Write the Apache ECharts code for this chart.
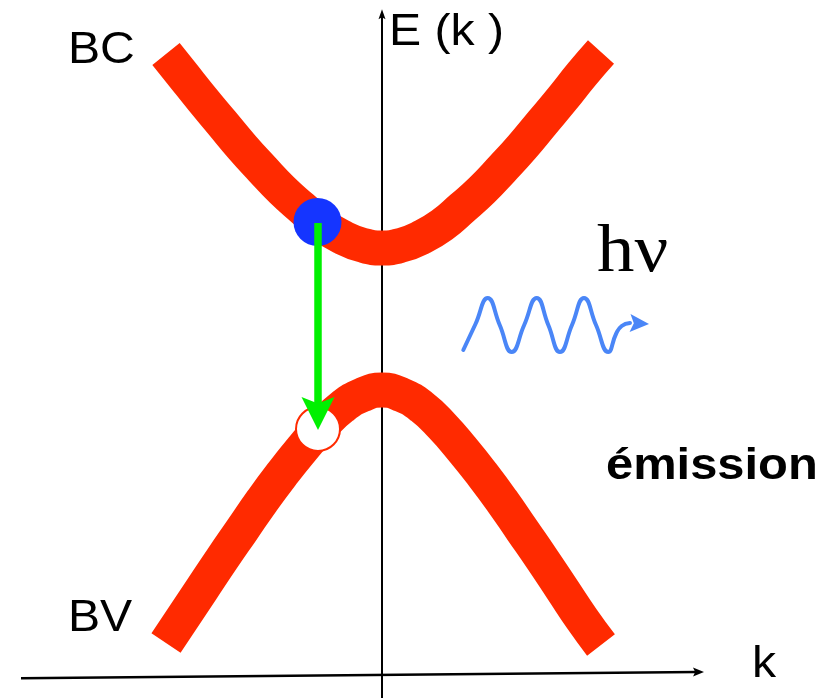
<!DOCTYPE html>
<html><head><meta charset="utf-8">
<script src="https://cdn.jsdelivr.net/npm/echarts@6/dist/echarts.min.js"></script>
<style>html,body{margin:0;padding:0;background:#fff}#c{width:830px;height:698px}</style>
</head><body><div id="c"></div>
<script>
// ---- data (k, E in arbitrary units) ----
// conduction band (BC) centre line
const bcK = [-2.16,-2.0,-1.8,-1.6,-1.4,-1.2,-1.0,-0.8,-0.6,-0.4,-0.2,0,0.2,0.4,0.6,0.8,1.0,1.2,1.4,1.6,1.8,2.0,2.19];
const bcE = [6.21,6.01,5.76,5.52,5.28,5.06,4.85,4.67,4.50,4.38,4.30,4.27,4.30,4.38,4.50,4.67,4.85,5.06,5.28,5.52,5.76,6.01,6.23];
// valence band (BV) centre line
const bvK = [-2.16,-2.0,-1.8,-1.6,-1.4,-1.2,-1.0,-0.8,-0.6,-0.4,-0.2,0,0.2,0.4,0.6,0.8,1.0,1.2,1.4,1.6,1.8,2.0,2.19];
const bvE = [0.32,0.56,0.86,1.16,1.45,1.74,2.01,2.26,2.49,2.68,2.80,2.85,2.80,2.68,2.49,2.26,2.01,1.74,1.45,1.16,0.86,0.56,0.30];
// electron (BC) and hole (BV)
const electron = [-0.645, 4.53];
const hole = [-0.64, 2.46];
// radiative transition: start E, arrow-tip E
const transitionK = -0.64;
const transitionE = [4.52, 2.45];
// emitted photon wave
const waveK = [0.813,0.935,1.057,1.177,1.297,1.422,1.547,1.663,1.78,1.90,2.02,2.14,2.263,2.34,2.397,2.48];
const waveE = [3.25,3.51,3.77,3.50,3.23,3.50,3.77,3.50,3.23,3.50,3.77,3.50,3.23,3.41,3.49,3.52];
const waveTip = [2.67, 3.51];
// k axis (slightly tilted): start, arrow tip
const kAxisStart = [-3.61, -0.033];
const kAxisTip = [3.22, 0.03];
// E axis: bottom, arrow tip
const eAxisStart = [0, -0.23];
const eAxisTip = [0, 6.657];
// axis extents
const kMin = -3.82, kMax = 4.48, eMin = -0.23, eMax = 6.75;

const zip = (a, b) => a.map((v, i) => [v, b[i]]);
const PX = 100; // pixels per unit
function backOff(from, tip, lenPx) {
  const dx = tip[0] - from[0], dy = tip[1] - from[1];
  const d = Math.sqrt(dx * dx + dy * dy) * PX;
  const f = (d - lenPx) / d;
  return [from[0] + dx * f, from[1] + dy * f];
}
function arrowHead(from, tip, len, halfW, color, z) {
  return {
    type: 'custom', z: z, silent: true, clip: false,
    data: [[from[0], from[1], tip[0], tip[1]]],
    renderItem: function (params, api) {
      const a = api.coord([api.value(0), api.value(1)]);
      const t = api.coord([api.value(2), api.value(3)]);
      let dx = t[0] - a[0], dy = t[1] - a[1];
      const d = Math.sqrt(dx * dx + dy * dy); dx /= d; dy /= d;
      const nx = -dy, ny = dx;
      const bx = t[0] - dx * len, by = t[1] - dy * len;
      const mx = t[0] - dx * len * 0.8, my = t[1] - dy * len * 0.8;
      return { type: 'polygon',
        shape: { points: [[t[0], t[1]], [bx + nx * halfW, by + ny * halfW], [mx, my], [bx - nx * halfW, by - ny * halfW]] },
        style: { fill: color } };
    }
  };
}
function seg(from, to, color, width, z) {
  return { type: 'lines', coordinateSystem: 'cartesian2d', z: z, silent: true,
    lineStyle: { color: color, width: width, opacity: 1, cap: 'butt' },
    data: [{ coords: [from, to] }] };
}

const RED = '#ff2a00', GREEN = '#00f000', BLUE = '#4a86f7';
const chart = echarts.init(document.getElementById('c'));
const sans = '"Liberation Sans", Arial, Helvetica, sans-serif';
const lastWave = [waveK[waveK.length - 1], waveE[waveE.length - 1]];
const trFrom = [transitionK, transitionE[0]], trTip = [transitionK, transitionE[1]];
chart.setOption({
  animation: false,
  backgroundColor: '#fff',
  grid: { left: 0, right: 0, top: 0, bottom: 0 },
  xAxis: { type: 'value', min: kMin, max: kMax, show: false },
  yAxis: { type: 'value', min: eMin, max: eMax, show: false },
  series: [
    seg(kAxisStart, backOff(kAxisStart, kAxisTip, 7), '#000', 2.5, 1),
    arrowHead(kAxisStart, kAxisTip, 11, 4.5, '#000', 1),
    seg(eAxisStart, backOff(eAxisStart, eAxisTip, 6), '#000', 2, 1),
    arrowHead(eAxisStart, eAxisTip, 10, 3.5, '#000', 1),
    { type: 'line', z: 2, data: zip(bcK, bcE), smooth: 0.5, showSymbol: false, silent: true,
      lineStyle: { color: RED, width: 35, cap: 'butt', join: 'round' } },
    { type: 'line', z: 2, data: zip(bvK, bvE), smooth: 0.5, showSymbol: false, silent: true,
      lineStyle: { color: RED, width: 35, cap: 'butt', join: 'round' } },
    { type: 'scatter', z: 3, symbolSize: 44, data: [hole], silent: true,
      itemStyle: { color: '#fff', borderColor: RED, borderWidth: 2, opacity: 1 } },
    { type: 'scatter', z: 3, symbolSize: 48, data: [electron], silent: true,
      itemStyle: { color: '#1535ff', opacity: 1 } },
    seg(trFrom, backOff(trFrom, trTip, 20), GREEN, 7.5, 4),
    arrowHead(trFrom, trTip, 33, 16.5, GREEN, 4),
    { type: 'line', z: 2, data: zip(waveK, waveE), smooth: 0.5, showSymbol: false, silent: true,
      lineStyle: { color: BLUE, width: 4, cap: 'round', join: 'round' } },
    arrowHead(lastWave, waveTip, 19, 9, BLUE, 2)
  ],
  graphic: [
    { type: 'text', x: 68, y: 51, scaleX: 1.07, style: { text: 'BC', font: '45px ' + sans, fill: '#000', verticalAlign: 'middle' } },
    { type: 'text', x: 68, y: 619, scaleX: 1.07, style: { text: 'BV', font: '45px ' + sans, fill: '#000', verticalAlign: 'middle' } },
    { type: 'text', x: 389, y: 33, scaleX: 1.07, style: { text: 'E (k )', font: '45px ' + sans, fill: '#000', verticalAlign: 'middle' } },
    { type: 'text', x: 752, y: 665, scaleX: 1.07, style: { text: 'k', font: '45px ' + sans, fill: '#000', verticalAlign: 'middle' } },
    { type: 'text', x: 597, y: 253, scaleX: 1.1, style: { text: 'hν', font: '68px "Liberation Serif", "Times New Roman", serif', fill: '#000', verticalAlign: 'middle' } },
    { type: 'text', x: 606, y: 467, scaleX: 1.11, style: { text: 'émission', font: 'bold 44px ' + sans, fill: '#000', verticalAlign: 'middle' } }
  ]
});
</script></body></html>
